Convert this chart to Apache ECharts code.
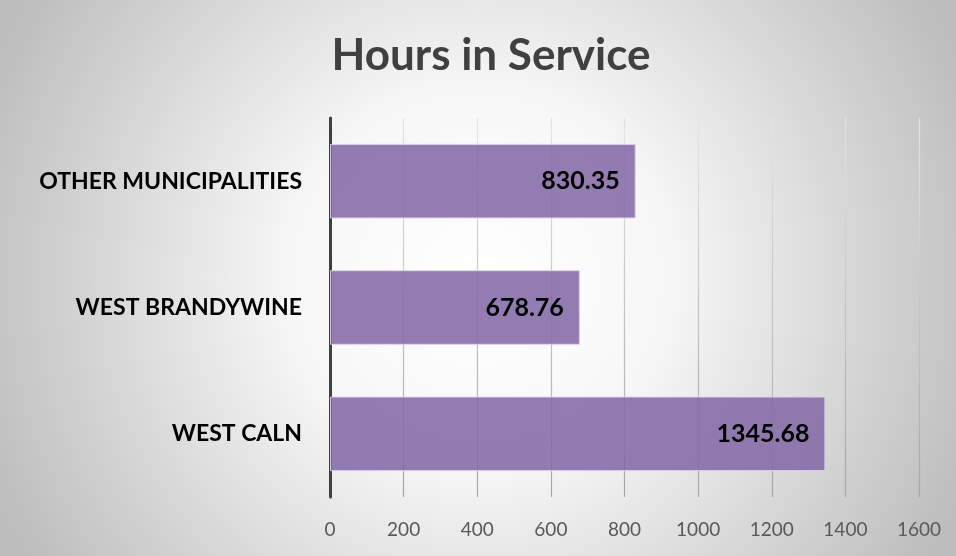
<!DOCTYPE html>
<html>
<head>
<meta charset="utf-8">
<script src="https://cdn.jsdelivr.net/npm/echarts@6/dist/echarts.min.js"></script>
<style>
html,body{margin:0;padding:0;background:#fff;}
#chart{width:956px;height:556px;}
</style>
</head>
<body>
<div id="chart"></div>
<script>
const categories = ['WEST CALN', 'WEST BRANDYWINE', 'OTHER MUNICIPALITIES'];
const hours = [1345.68, 678.76, 830.35];
const xTicks = [0, 200, 400, 600, 800, 1000, 1200, 1400, 1600];
const titleText = 'Hours in Service';

const chart = echarts.init(document.getElementById('chart'));
const FONT = 'Lato';
chart.setOption({
  animation: false,
  backgroundColor: {
    type: 'radial', x: 0.5, y: 0.5, r: 0.95,
    colorStops: [
      { offset: 0, color: '#ffffff' },
      { offset: 0.35, color: '#f7f7f7' },
      { offset: 1, color: '#bdbdbd' }
    ]
  },
  title: {
    text: titleText,
    left: 486, top: 29, textAlign: 'center',
    textStyle: { fontFamily: FONT, fontSize: 44, fontWeight: 'bold', color: '#404040' }
  },
  grid: { left: 330, right: 37, top: 118, bottom: 59, containLabel: false },
  xAxis: {
    type: 'value', min: xTicks[0], max: xTicks[xTicks.length - 1], interval: 200,
    axisLine: { show: false }, axisTick: { show: false },
    axisLabel: { fontFamily: FONT, fontSize: 19, color: '#595959', margin: 23, formatter: v => String(v) },
    splitLine: { show: true, lineStyle: { width: 1.2, color: {
      type: 'linear', global: true, x: 0, y: 118, x2: 0, y2: 497,
      colorStops: [{ offset: 0, color: '#e4e4e4' }, { offset: 1, color: '#a6a6a6' }]
    } } }
  },
  yAxis: {
    type: 'category', data: categories,
    axisLine: { show: true, lineStyle: { color: '#404040', width: 3 } },
    axisTick: { show: false },
    axisLabel: { fontFamily: FONT, fontSize: 23, fontWeight: 'bold', color: '#000', margin: 28 }
  },
  series: [{
    type: 'bar', data: hours, barWidth: '59%',
    itemStyle: { color: 'rgba(132,106,166,0.88)', borderColor: 'rgba(220,210,235,0.9)', borderWidth: 1 },
    label: {
      show: true, position: 'insideRight', distance: 16,
      fontFamily: FONT, fontSize: 25, fontWeight: 'bold', color: '#000',
      formatter: p => p.value.toFixed(2)
    }
  }]
});
</script>
</body>
</html>
